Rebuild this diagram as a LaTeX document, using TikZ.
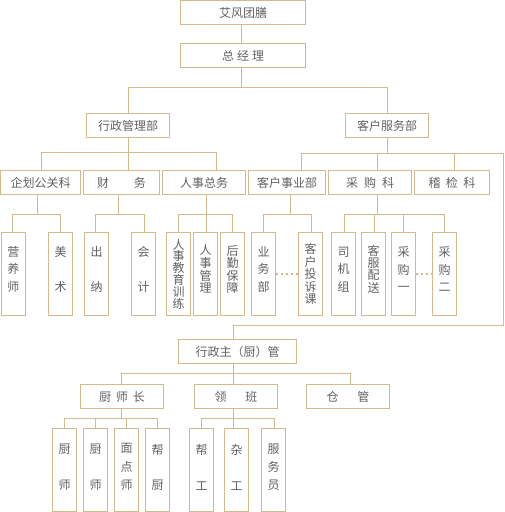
\documentclass[tikz,border=0pt]{standalone}
\usepackage{fontspec}
\newfontfamily\cjk{Noto Sans CJK SC}
\definecolor{linecol}{RGB}{210,186,140}
\definecolor{txtcol}{RGB}{96,96,96}
\newcommand\vt[3]{\raisebox{#1}[\height][\depth]{\vbox{\baselineskip=#2\lineskiplimit=-100pt\halign{\hfil##\hfil\cr#3\crcr}}}}
\newcommand\bx[6]{\node[box,minimum width={#4-#2},minimum height={#5-#3}] (#1) at ({(#2+#4)/2},{(#3+#5)/2}) {#6};}
\tikzset{
  box/.style={draw=linecol, line width=1pt, inner sep=0pt, font={\cjk\fontsize{12}{14}\selectfont}, text=txtcol},
  conn/.style={draw=linecol, line width=1pt},
  dotline/.style={draw=linecol, line width=2pt, dash pattern=on 2pt off 3pt}
}
\begin{document}
\begin{tikzpicture}[x=1pt,y=-1pt]
\useasboundingbox (0,0) rectangle (504,512);
% level 0-1
\bx{top}{180.5}{0.5}{305.5}{24.5}{艾风团膳}
\bx{gm}{180.5}{43.5}{305.5}{67.5}{总\hspace{3pt}经\hspace{3pt}理}
\bx{xz}{86.5}{113.5}{169.5}{137.5}{行政管理部}
\bx{kf}{345.5}{113.5}{428.5}{137.5}{客户服务部}
% level 2
\bx{qh}{0.5}{170.5}{80.5}{194.5}{企划公关科}
\bx{cw}{83.5}{170.5}{159.5}{194.5}{财\hspace{25pt}务}
\bx{rs}{162.5}{170.5}{245.5}{194.5}{人事总务}
\bx{ky}{248.5}{170.5}{325.5}{194.5}{客户事业部}
\bx{cg}{328.5}{170.5}{411.5}{194.5}{采\hspace{6pt}购\hspace{6pt}科}
\bx{jj}{414.5}{170.5}{489.5}{194.5}{稽\hspace{5.5pt}检\hspace{5.5pt}科}
% level 3
\bx{yy}{1.5}{232.5}{25.5}{315.5}{\vt{4.6pt}{17.5pt}{营\cr 养\cr 师}}
\bx{ms}{48.5}{232.5}{72.5}{315.5}{\vt{4.6pt}{35pt}{美\cr 术}}
\bx{cn}{84.5}{232.5}{108.5}{315.5}{\vt{4.6pt}{35pt}{出\cr 纳}}
\bx{kj}{131.5}{232.5}{155.5}{315.5}{\vt{4.6pt}{35pt}{会\cr 计}}
\bx{rj}{166.5}{232.5}{190.5}{315.5}{\vt{0pt}{11.8pt}{人\cr 事\cr 教\cr 育\cr 训\cr 练}}
\bx{rg}{193.5}{232.5}{217.5}{315.5}{\vt{5pt}{12.6pt}{人\cr 事\cr 管\cr 理}}
\bx{hq}{220.5}{232.5}{244.5}{315.5}{\vt{4.5pt}{12.2pt}{后\cr 勤\cr 保\cr 障}}
\bx{yw}{251.5}{232.5}{275.5}{315.5}{\vt{4.6pt}{17.5pt}{业\cr 务\cr 部}}
\bx{ts}{298.5}{232.5}{322.5}{315.5}{\vt{0pt}{12.4pt}{客\cr 户\cr 投\cr 诉\cr 课}}
\bx{sj}{331.5}{232.5}{355.5}{315.5}{\vt{4.6pt}{17.5pt}{司\cr 机\cr 组}}
\bx{ps}{361.5}{232.5}{385.5}{315.5}{\vt{4.8pt}{12.2pt}{客\cr 服\cr 配\cr 送}}
\bx{ca}{391.5}{232.5}{415.5}{315.5}{\vt{4.6pt}{17.5pt}{采\cr 购\cr 一}}
\bx{cb}{432.5}{232.5}{456.5}{315.5}{\vt{4.6pt}{17.5pt}{采\cr 购\cr 二}}
% lower part
\bx{xzzg}{178.5}{339.5}{296.5}{363.5}{行政主（厨）管}
\bx{csz}{80.5}{384.5}{163.5}{408.5}{厨\hspace{5pt}师\hspace{5pt}长}
\bx{lb}{194.5}{384.5}{277.5}{408.5}{领\hspace{19pt}班}
\bx{cgg}{306.5}{384.5}{389.5}{408.5}{仓\hspace{19pt}管}
\bx{d1}{52.5}{428.5}{76.5}{511.5}{\vt{2.6pt}{35.7pt}{厨\cr 师}}
\bx{d2}{83.5}{428.5}{107.5}{511.5}{\vt{2.6pt}{35.7pt}{厨\cr 师}}
\bx{d3}{114.5}{428.5}{138.5}{511.5}{\vt{3pt}{18.2pt}{面\cr 点\cr 师}}
\bx{d4}{145.5}{428.5}{169.5}{511.5}{\vt{2.6pt}{35.7pt}{帮\cr 厨}}
\bx{d5}{189.5}{428.5}{213.5}{511.5}{\vt{2.6pt}{35.7pt}{帮\cr 工}}
\bx{d6}{224.5}{428.5}{248.5}{511.5}{\vt{2.6pt}{35.7pt}{杂\cr 工}}
\bx{d7}{261.5}{428.5}{285.5}{511.5}{\vt{3pt}{18pt}{服\cr 务\cr 员}}
% connectors top
\coordinate (a1) at (241.5,87.5);
\coordinate (a2) at (128.5,87.5);
\coordinate (a3) at (387.5,87.5);
\draw[conn] (top.south -| a1) -- (gm.north -| a1);
\draw[conn] (gm.south -| a1) -- (a1);
\draw[conn] (xz.north -| a2) -- (a2) -- (a3) -- (kf.north -| a3);
% 行政管理部 bus
\coordinate (b1) at (41.5,152.5);
\coordinate (b2) at (216.5,152.5);
\draw[conn] (qh.north -| b1) -- (b1) -- (b2) -- (rs.north -| b2);
\draw[conn] (xz.south -| a2) -- (cw.north -| a2);
% 客户服务部 bus and loop
\coordinate (c1) at (301.5,153.5);
\coordinate (c2) at (503.5,153.5);
\coordinate (c3) at (503.5,325.5);
\coordinate (c4) at (233.5,325.5);
\coordinate (c5) at (377.5,153.5);
\coordinate (c6) at (454.5,153.5);
\draw[conn] (ky.north -| c1) -- (c1) -- (c2) -- (c3) -- (c4) -- (xzzg.north -| c4);
\draw[conn] (kf.south -| a3) -- (a3 |- c1);
\draw[conn] (c5) -- (cg.north -| c5);
\draw[conn] (c6) -- (jj.north -| c6);
% level 3 buses
\coordinate (e1) at (37.5,214.5); \coordinate (e1l) at (12.5,214.5); \coordinate (e1r) at (60.5,214.5);
\draw[conn] (qh.south -| e1) -- (e1);
\draw[conn] (yy.north -| e1l) -- (e1l) -- (e1r) -- (ms.north -| e1r);
\coordinate (e2) at (118.5,214.5); \coordinate (e2l) at (95.5,214.5); \coordinate (e2r) at (144.5,214.5);
\draw[conn] (cw.south -| e2) -- (e2);
\draw[conn] (cn.north -| e2l) -- (e2l) -- (e2r) -- (kj.north -| e2r);
\coordinate (e3) at (206.5,214.5); \coordinate (e3l) at (178.5,214.5); \coordinate (e3r) at (232.5,214.5);
\draw[conn] (rs.south -| e3) -- (rg.north -| e3);
\draw[conn] (rj.north -| e3l) -- (e3l) -- (e3r) -- (hq.north -| e3r);
\coordinate (e4) at (290.5,214.5); \coordinate (e4l) at (263.5,214.5); \coordinate (e4r) at (311.5,214.5);
\draw[conn] (ky.south -| e4) -- (e4);
\draw[conn] (yw.north -| e4l) -- (e4l) -- (e4r) -- (ts.north -| e4r);
\coordinate (e5) at (377.5,214.5); \coordinate (e5l) at (344.5,214.5); \coordinate (e5m) at (374.5,214.5);
\coordinate (e5n) at (403.5,214.5); \coordinate (e5r) at (444.5,214.5);
\draw[conn] (cg.south -| e5) -- (e5);
\draw[conn] (sj.north -| e5l) -- (e5l) -- (e5r) -- (cb.north -| e5r);
\draw[conn] (e5m) -- (ps.north -| e5m);
\draw[conn] (e5n) -- (ca.north -| e5n);
% dotted links
\draw[dotline] (yw.east |- 0,274) -- (ts.west |- 0,274);
\draw[dotline] (ca.east |- 0,274) -- (cb.west |- 0,274);
% lower buses
\coordinate (f1) at (233.5,373.5); \coordinate (f1l) at (121.5,373.5); \coordinate (f1r) at (350.5,373.5);
\draw[conn] (xzzg.south -| f1) -- (lb.north -| f1);
\draw[conn] (csz.north -| f1l) -- (f1l) -- (f1r) -- (cgg.north -| f1r);
\coordinate (g1) at (121.5,418.5); \coordinate (g1a) at (64.5,418.5); \coordinate (g1b) at (95.5,418.5);
\coordinate (g1c) at (126.5,418.5); \coordinate (g1d) at (157.5,418.5);
\draw[conn] (csz.south -| g1) -- (g1);
\draw[conn] (d1.north -| g1a) -- (g1a) -- (g1d) -- (d4.north -| g1d);
\draw[conn] (g1b) -- (d2.north -| g1b);
\draw[conn] (g1c) -- (d3.north -| g1c);
\coordinate (h1) at (233.5,418.5); \coordinate (h1l) at (201.5,418.5); \coordinate (h1r) at (274.5,418.5);
\draw[conn] (lb.south -| h1) -- (d6.north -| h1);
\draw[conn] (d5.north -| h1l) -- (h1l) -- (h1r) -- (d7.north -| h1r);
\end{tikzpicture}
\end{document}
